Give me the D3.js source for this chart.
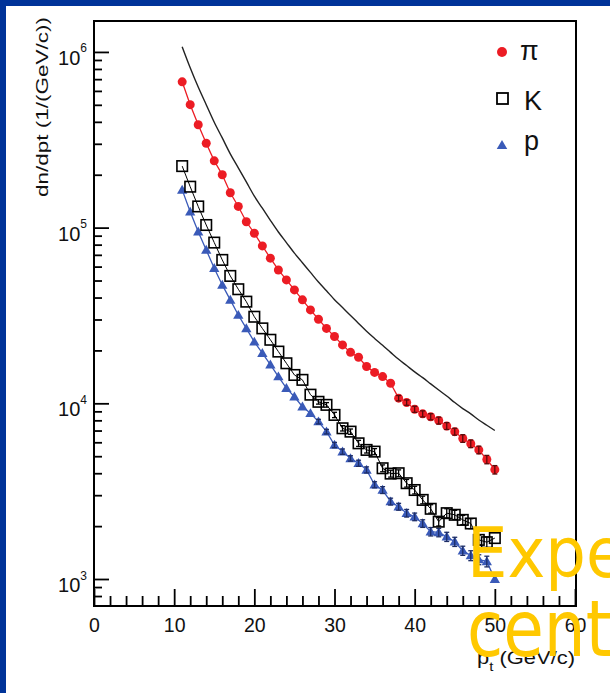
<!DOCTYPE html>
<html>
<head>
<meta charset="utf-8">
<script src="https://cdn.jsdelivr.net/npm/d3@7"></script>
<style>
  html, body { margin: 0; padding: 0; background: #fff; }
  svg { display: block; }
  text { font-family: "Liberation Sans", Arial, sans-serif; }
  text.slide { font-family: "DejaVu Sans", Verdana, sans-serif; }
</style>
</head>
<body>
<svg id="chart" width="610" height="693"></svg>
<script>
// transverse momentum bins (GeV/c)
const pt = [11,12,13,14,15,16,17,18,19,20,21,22,23,24,25,26,27,28,29,30,
            31,32,33,34,35,36,37,38,39,40,41,42,43,44,45,46,47,48,49,50];

// dn/dpt for each species
const pion = [6.76e5,5.01e5,3.85e5,3.02e5,2.40e5,2.00e5,1.58e5,1.32e5,1.08e5,9.29e4,
              7.87e4,6.70e4,5.74e4,5.04e4,4.42e4,3.88e4,3.40e4,3.01e4,2.67e4,2.40e4,
              2.15e4,1.95e4,1.83e4,1.62e4,1.50e4,1.42e4,1.30e4,1.07e4,1.01e4,9250,
              8710,8390,7980,7430,6900,6310,5890,5430,4790,4190];
const kaon = [2.24e5,1.71e5,1.32e5,1.035e5,8.22e4,6.55e4,5.31e4,4.46e4,3.79e4,3.11e4,
              2.67e4,2.30e4,1.97e4,1.69e4,1.45e4,1.36e4,1.12e4,1.02e4,9800,8590,
              7210,6900,5920,5430,5310,4270,3980,4000,3510,3210,
              2820,2510,2120,2370,2320,2170,2070,1670,1620,1710];
const proton = [1.64e5,1.23e5,9.48e4,7.46e4,5.87e4,4.72e4,3.88e4,3.18e4,2.67e4,2.24e4,
                1.93e4,1.66e4,1.42e4,1.22e4,1.09e4,9570,8770,7870,6900,5790,
                5310,4860,4560,4180,3440,3210,2760,2580,2370,2260,
                2070,1860,1840,1740,1630,1450,1360,1290,1260,998];
// reference spectrum (solid curve)
const refCurve = [1.07e6,8.13e5,6.31e5,5.01e5,3.98e5,3.24e5,2.63e5,2.19e5,1.82e5,1.51e5,
                  1.29e5,1.10e5,9.44e4,8.22e4,7.16e4,6.31e4,5.56e4,4.90e4,4.37e4,3.89e4,
                  3.51e4,3.16e4,2.85e4,2.57e4,2.34e4,2.14e4,1.95e4,1.78e4,1.64e4,1.51e4,
                  1.40e4,1.29e4,1.19e4,1.10e4,1.01e4,9330,8710,8040,7500,7000];

// relative statistical errors (0 = bar hidden by the marker)
const pionErr = [0,0,0,0,0,0,0,0,0,0, 0,0,0,0,0,0,0,0,0,0, 0,0,0,0,0,0,0,
                 0.035,0.035,0.04,0.04,0.04,0.045,0.045,0.045,0.05,0.05,0.05,0.055,0.055];
const kaonErr = [0,0,0,0,0,0,0,0,0,0, 0,0,0,0,0,0,0,
                 0.03,0.03,0.035,0.035,0.035,0.04,0.04,0.04,0.045,0.045,0.045,0.05,0.05,
                 0.05,0.055,0.055,0.06,0.06,0.06,0.065,0.065,0.07];
const protonErr = [0,0,0,0,0,0,0,0,0,0, 0,0,0,0,0,0,0,
                   0.03,0.03,0.035,0.035,0.035,0.04,0.04,0.04,0.045,0.045,0.045,0.05,0.05,
                   0.05,0.055,0.055,0.06,0.06,0.06,0.065,0.065,0.07];

const legendLabels = ["\u03c0", "K", "p"];
const yMajor = [1e3, 1e4, 1e5, 1e6];
const yExp = ["3", "4", "5", "6"];

const W = 610, H = 693;
const svg = d3.select("#chart");

// slide background
svg.append("rect").attr("width", W).attr("height", H).attr("fill", "#003399");
svg.append("rect").attr("x", 6).attr("y", 6).attr("width", W - 6).attr("height", H - 6).attr("fill", "#fff");

const x = d3.scaleLinear().domain([0, 60]).range([94, 575]);
const y = d3.scaleLog().domain([702, 1.5e6]).range([606, 21]);
const x0 = 94, x1 = 576, yTop = 21, yBot = 606;

// x axis: major + minor ticks pointing inward
const gx = svg.append("g").attr("transform", `translate(0,${yBot})`);
gx.call(d3.axisBottom(x).tickValues(x.ticks(30).filter(v => v % 10 !== 0)).tickSize(-10).tickFormat(""));
gx.call(g => g.select(".domain").remove());
const gx2 = svg.append("g").attr("transform", `translate(0,${yBot})`);
gx2.call(d3.axisBottom(x).tickValues(x.ticks(6)).tickSize(-17).tickPadding(12).tickFormat(d3.format("d")));
gx2.call(g => g.select(".domain").remove());
gx2.selectAll("text").attr("font-size", 19.5).attr("fill", "#111");

// y axis: major + minor ticks pointing inward
const gy = svg.append("g").attr("transform", `translate(${x0},0)`);
gy.call(d3.axisLeft(y).tickValues(y.ticks().filter(v => !yMajor.includes(v))).tickSize(-8).tickFormat(""));
gy.call(g => g.select(".domain").remove());
const gy2 = svg.append("g").attr("transform", `translate(${x0},0)`);
gy2.call(d3.axisLeft(y).tickValues(yMajor).tickSize(-15).tickPadding(7).tickFormat(""));
gy2.call(g => g.select(".domain").remove());
gy2.selectAll(".tick text").each(function(d, i) {
  const t = d3.select(this).attr("dy", null).attr("y", 12.5)
    .attr("font-size", 20).attr("fill", "#111");
  t.text("10");
  t.append("tspan").attr("dy", -12.5).attr("font-size", 12).text(yExp[i]);
});
svg.selectAll(".tick line").attr("stroke", "#000").attr("stroke-width", 1.8);

// frame
svg.append("rect").attr("x", x0).attr("y", yTop).attr("width", x1 - x0).attr("height", yBot - yTop)
  .attr("fill", "none").attr("stroke", "#000").attr("stroke-width", 2);

// axis titles
svg.append("text")
  .attr("transform", "translate(48,107) rotate(-90)")
  .attr("text-anchor", "middle").attr("font-size", 16.5).attr("fill", "#111")
  .attr("textLength", 180).attr("lengthAdjust", "spacingAndGlyphs")
  .text("dn/dpt (1/(GeV/c))");

const xt = svg.append("text").attr("x", 477).attr("y", 664)
  .attr("font-size", 19).attr("fill", "#111")
  .attr("textLength", 98).attr("lengthAdjust", "spacingAndGlyphs");
xt.append("tspan").text("p");
xt.append("tspan").attr("font-size", 13).attr("dy", 7).text("t");
xt.append("tspan").attr("dy", -7).text(" (GeV/c)");

const rows = pt.map((p, i) => ({ pt: p, pi: pion[i], k: kaon[i], pr: proton[i], ref: refCurve[i],
  ePi: pionErr[i], eK: kaonErr[i], ePr: protonErr[i] }));

// reference curve
svg.append("path").datum(rows)
  .attr("d", d3.line().x(d => x(d.pt)).y(d => y(d.ref)).curve(d3.curveMonotoneX))
  .attr("fill", "none").attr("stroke", "#222").attr("stroke-width", 1.4);

const colors = { pi: "#ec1c24", k: "#000", pr: "#3a5ab8" };

function drawLine(key, color, w) {
  svg.append("path").datum(rows)
    .attr("d", d3.line().x(d => x(d.pt)).y(d => y(d[key])))
    .attr("fill", "none").attr("stroke", color).attr("stroke-width", w);
}
function drawErr(key, ekey, color) {
  const g = svg.append("g").attr("stroke", color).attr("stroke-width", 1.3);
  rows.filter(d => d[ekey] > 0).forEach(d => {
    const cx = x(d.pt), ya = y(d[key] * (1 + d[ekey])), yb = y(d[key] * (1 - d[ekey]));
    g.append("line").attr("x1", cx).attr("x2", cx).attr("y1", ya).attr("y2", yb);
    g.append("line").attr("x1", cx - 2.5).attr("x2", cx + 2.5).attr("y1", ya).attr("y2", ya);
    g.append("line").attr("x1", cx - 2.5).attr("x2", cx + 2.5).attr("y1", yb).attr("y2", yb);
  });
}
const tri = d3.symbol().type(d3.symbolTriangle).size(46);

// protons
drawLine("pr", colors.pr, 1.3);
svg.append("g").selectAll("path").data(rows).join("path")
  .attr("d", tri).attr("transform", d => `translate(${x(d.pt)},${y(d.pr) + 0.8})`)
  .attr("fill", colors.pr);
drawErr("pr", "ePr", "#1d2d66");

// kaons
drawLine("k", "#000", 1);
svg.append("g").selectAll("rect").data(rows).join("rect")
  .attr("x", d => x(d.pt) - 5.25).attr("y", d => y(d.k) - 5.25).attr("width", 10.5).attr("height", 10.5)
  .attr("fill", "none").attr("stroke", "#000").attr("stroke-width", 1.6);
drawErr("k", "eK", "#000");

// pions
drawLine("pi", colors.pi, 1.3);
svg.append("g").selectAll("circle").data(rows).join("circle")
  .attr("cx", d => x(d.pt)).attr("cy", d => y(d.pi)).attr("r", 4.5).attr("fill", colors.pi);
drawErr("pi", "ePi", "#5a0a0a");

// legend
const lg = svg.append("g");
lg.append("circle").attr("cx", 502).attr("cy", 52).attr("r", 5).attr("fill", colors.pi);
lg.append("rect").attr("x", 497).attr("y", 93).attr("width", 11).attr("height", 11)
  .attr("fill", "none").attr("stroke", "#000").attr("stroke-width", 1.8);
lg.append("path").attr("d", d3.symbol().type(d3.symbolTriangle).size(48)).attr("transform", "translate(502,146)")
  .attr("fill", colors.pr);
const legY = [60, 110, 150];
legendLabels.forEach((t, i) => {
  lg.append("text").attr("x", i === 0 ? 520 : 524).attr("y", legY[i]).attr("font-size", 27)
    .attr("fill", "#111").text(t);
});

// slide title overlapping the figure
svg.append("text").attr("class", "slide").attr("transform", "translate(467,577) scale(1,1.08)")
  .attr("font-size", 64).attr("fill", "#ffc800").text("Expe");
svg.append("text").attr("class", "slide").attr("transform", "translate(467,656) scale(1,1.2)")
  .attr("font-size", 66).attr("fill", "#ffc800").text("cent");
</script>
</body>
</html>
